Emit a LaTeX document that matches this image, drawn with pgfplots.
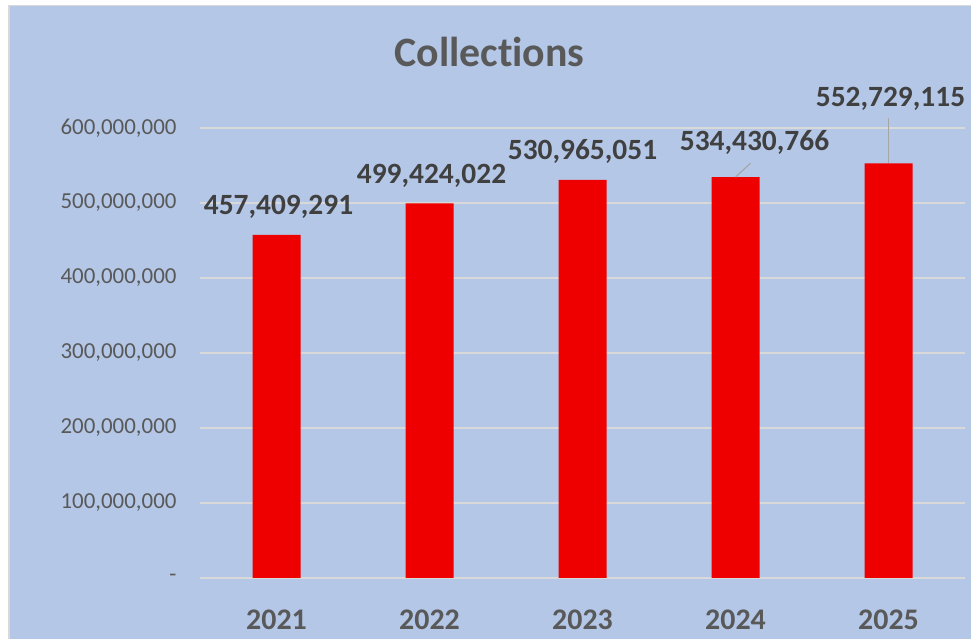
\documentclass[border=0pt]{standalone}
\usepackage{pgfplots}
\pgfplotsset{compat=1.18}
\usepackage{fontspec}
\setmainfont{Carlito}[Ligatures=NoCommon]
\definecolor{bg}{HTML}{B4C7E7}
\definecolor{gridc}{HTML}{D9D9D9}
\definecolor{txt}{HTML}{595959}
\definecolor{lbl}{HTML}{404040}
\definecolor{barred}{HTML}{EE0000}
\definecolor{leader}{HTML}{A6A6A6}
\begin{document}
\begin{tikzpicture}[x=1bp,y=1bp]
\path[use as bounding box] (0,0) rectangle (971,639);
\fill[white] (0,0) rectangle (971,639);
\fill[bg] (8,0) rectangle (971,634);
\draw[gridc,line width=1.5bp] (8.75,-2) -- (8.75,633.25) -- (975,633.25);
\node[text=txt,font=\bfseries\fontsize{42}{48}\selectfont] at (489.5,587) {Collections};
\begin{axis}[
  at={(200bp,61bp)}, anchor=south west,
  scale only axis, width=765bp, height=450bp,
  xmin=-0.5, xmax=4.5, ymin=0, ymax=600000000,
  scaled y ticks=false,
  axis line style={draw=none},
  major tick length=0pt,
  xtick={0,1,2,3,4},
  xticklabels={\mbox{2021},\mbox{2022},\mbox{2023},\mbox{2024},\mbox{2025}},
  xticklabel style={text=txt,font=\bfseries\fontsize{30}{36}\selectfont,anchor=center,yshift=-42bp},
  ytick={0,100000000,200000000,300000000,400000000,500000000,600000000},
  yticklabels={{\mbox{-}},{\mbox{100,000,000}},{\mbox{200,000,000}},{\mbox{300,000,000}},{\mbox{400,000,000}},{\mbox{500,000,000}},{\mbox{600,000,000}}},
  yticklabel style={text=txt,font=\fontsize{23}{27}\selectfont,anchor=east,xshift=-20bp},
  ymajorgrids, grid style={gridc,line width=1.5bp},
  clip=false,
]
\addplot[ybar, bar width=48bp, fill=barred, draw=none,
  visualization depends on={value \thisrow{dx} \as \dx},
  visualization depends on={value \thisrow{dy} \as \dy},
  nodes near coords={\pgfmathprintnumber[fixed,precision=0,1000 sep={,},assume math mode=true]{\pgfplotspointmeta}},
  point meta=explicit,
  nodes near coords style={text=lbl,font=\bfseries\fontsize{29.5}{34}\selectfont,anchor=center,xshift=\dx bp,yshift=\dy bp},
] table[x=x,y=y,meta=y] {
x y dx dy
0 457409291 2 28
1 499424022 2 28
2 530965051 0 28
3 534430766 19 35
4 552729115 2 65
};
\draw[leader,line width=1.2bp] (axis cs:3,534430766) -- ([xshift=15bp,yshift=14bp]axis cs:3,534430766);
\draw[leader,line width=1.2bp] (axis cs:4,552729115) -- ([yshift=45bp]axis cs:4,552729115);
\end{axis}
\end{tikzpicture}
\end{document}
